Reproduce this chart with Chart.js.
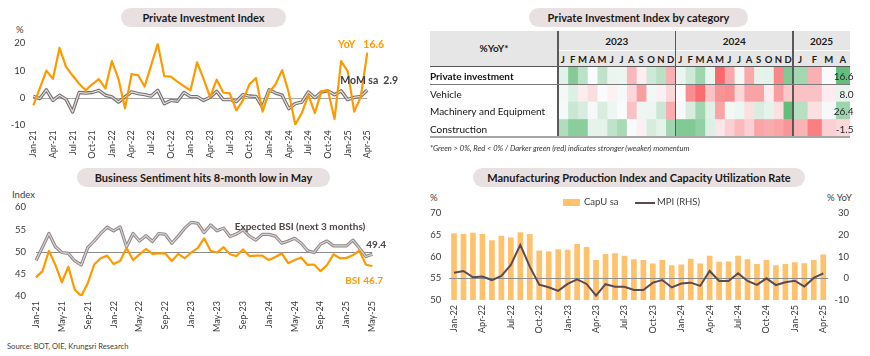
<!DOCTYPE html>
<html><head><meta charset="utf-8">
<script src="https://cdn.jsdelivr.net/npm/chart.js@4.4.1/dist/chart.umd.min.js"></script>
<style>
html,body{margin:0;padding:0;background:#fff;}
body{width:870px;height:356px;position:relative;overflow:hidden;font-family:Lato,'Open Sans',sans-serif;color:#262626;}
.pill{position:absolute;height:19px;border-radius:10px;background:#E9E1E1;font-weight:bold;font-size:11px;line-height:19px;text-align:center;color:#1a1a1a;white-space:nowrap;}
canvas{position:absolute;}
.t{position:absolute;font-size:9.5px;color:#404040;white-space:nowrap;}
.hd{position:absolute;text-align:center;font-weight:bold;color:#1a1a1a;white-space:nowrap;}
.ln{position:absolute;}
</style></head><body>
<div class="pill" style="left:121px;top:8px;width:165px;">Private Investment Index</div>
<div class="pill" style="left:529px;top:8px;width:219px;">Private Investment Index by category</div>
<div class="pill" style="left:77px;top:168px;width:253px;">Business Sentiment hits 8-month low in May</div>
<div class="pill" style="left:473px;top:168px;width:332px;">Manufacturing Production Index and Capacity Utilization Rate</div>

<div class="t" style="left:16px;top:24px;">%</div>
<div class="t" style="left:12px;top:189px;">Index</div>
<div class="t" style="left:430px;top:192px;">%</div>
<div class="t" style="left:827px;top:192px;">% YoY</div>

<canvas id="c1" width="420" height="136" style="left:0;top:24px;"></canvas>
<canvas id="c3" width="420" height="145" style="left:0;top:190px;"></canvas>
<canvas id="c4" width="445" height="145" style="left:425px;top:190px;"></canvas>

<div id="hdr" style="position:absolute;left:430px;top:31px;width:420px;height:35.7px;background:#E7E6E6;"></div>
<canvas id="c2" width="425" height="70" style="left:430px;top:66.7px;"></canvas>
<div id="lines"></div>
<div id="leg4"></div>

<div class="t" style="left:430px;top:143px;font-size:7.6px;font-style:italic;color:#333;">*Green &gt; 0%, Red &lt; 0% / Darker green (red) indicates stronger (weaker) momentum</div>
<div class="t" style="left:7px;top:341px;font-size:7.6px;color:#404040;">Source: BOT, OIE, Krungsri Research</div>

<script>
// ---------- DATA ----------
const pimMonths = ["Jan-21","Feb-21","Mar-21","Apr-21","May-21","Jun-21","Jul-21","Aug-21","Sep-21","Oct-21","Nov-21","Dec-21",
"Jan-22","Feb-22","Mar-22","Apr-22","May-22","Jun-22","Jul-22","Aug-22","Sep-22","Oct-22","Nov-22","Dec-22",
"Jan-23","Feb-23","Mar-23","Apr-23","May-23","Jun-23","Jul-23","Aug-23","Sep-23","Oct-23","Nov-23","Dec-23",
"Jan-24","Feb-24","Mar-24","Apr-24","May-24","Jun-24","Jul-24","Aug-24","Sep-24","Oct-24","Nov-24","Dec-24",
"Jan-25","Feb-25","Mar-25","Apr-25"];
const pimYoY = [-2.7,3.6,10.0,7.0,18.3,11.4,8.2,5.2,2.8,5.0,6.9,3.5,
13.5,7.0,-3.8,8.7,8.3,4.2,12.0,19.8,8.0,7.8,6.0,4.3,
2.8,13.0,7.0,0.3,6.7,2.0,1.7,-4.5,-1.0,5.0,7.3,-5.0,
2.0,5.0,10.2,2.0,-9.7,-5.5,1.0,-5.5,2.5,2.6,-7.7,13.5,
9.8,-5.0,0.4,16.6];
const pimMoM = [0.6,-0.2,3.0,-0.9,1.0,-0.5,-5.1,2.0,1.8,2.0,2.8,1.0,
0.4,-1.5,0.4,2.2,1.6,1.2,0.7,2.8,-2.1,-0.9,-1.2,2.0,
0.5,0.5,-0.9,0.3,2.4,-0.6,-0.5,-1.3,1.2,0.7,0.6,-3.3,
3.0,1.8,1.0,-3.9,-2.1,-1.5,2.2,0.1,2.2,2.6,1.2,2.6,
-0.6,0.2,0.6,2.9];
const pimSeriesNames = ["YoY","MoM sa"];

const bsiMonths = ["Jan-21","Feb-21","Mar-21","Apr-21","May-21","Jun-21","Jul-21","Aug-21","Sep-21","Oct-21","Nov-21","Dec-21",
"Jan-22","Feb-22","Mar-22","Apr-22","May-22","Jun-22","Jul-22","Aug-22","Sep-22","Oct-22","Nov-22","Dec-22",
"Jan-23","Feb-23","Mar-23","Apr-23","May-23","Jun-23","Jul-23","Aug-23","Sep-23","Oct-23","Nov-23","Dec-23",
"Jan-24","Feb-24","Mar-24","Apr-24","May-24","Jun-24","Jul-24","Aug-24","Sep-24","Oct-24","Nov-24","Dec-24",
"Jan-25","Feb-25","Mar-25","Apr-25","May-25"];
const bsiCurrent = [44.2,45.6,50.2,47.0,43.1,46.6,41.4,40.0,42.9,47.1,48.5,49.1,
47.2,47.9,50.8,48.1,49.4,50.6,49.5,49.6,49.6,47.9,49.5,48.5,
49.8,50.8,53.0,50.2,49.8,51.0,49.4,49.0,50.5,49.0,49.1,49.1,
48.1,48.8,49.6,47.4,48.1,48.7,47.0,47.1,45.6,47.0,49.4,48.5,
48.6,49.2,50.2,47.1,46.7];
const bsiExpected = [48.0,51.0,54.1,51.1,49.8,49.6,47.9,47.0,50.9,52.4,54.1,55.5,
54.7,55.6,51.1,54.1,52.4,53.6,52.3,54.1,53.9,51.9,53.5,55.3,
56.6,56.4,54.3,56.0,54.7,55.3,53.4,54.0,54.9,53.5,52.6,53.9,
53.9,53.5,51.9,52.4,53.0,51.9,50.2,49.8,51.7,52.4,51.3,51.3,
51.3,52.6,50.8,48.9,49.4];
const bsiSeriesNames = ["BSI","Expected BSI (next 3 months)"];

const mfgMonths = ["Jan-22","Feb-22","Mar-22","Apr-22","May-22","Jun-22","Jul-22","Aug-22","Sep-22","Oct-22","Nov-22","Dec-22",
"Jan-23","Feb-23","Mar-23","Apr-23","May-23","Jun-23","Jul-23","Aug-23","Sep-23","Oct-23","Nov-23","Dec-23",
"Jan-24","Feb-24","Mar-24","Apr-24","May-24","Jun-24","Jul-24","Aug-24","Sep-24","Oct-24","Nov-24","Dec-24",
"Jan-25","Feb-25","Mar-25","Apr-25"];
const capU = [65.4,65.2,65.5,65.2,63.8,64.8,64.4,65.6,65.2,61.4,61.2,61.7,
61.6,62.9,62.2,59.2,60.6,60.8,60.2,59.4,59.2,58.4,59.2,58.0,
58.2,59.5,58.4,60.2,58.8,58.9,60.2,59.4,58.3,59.2,58.0,58.3,
58.7,58.5,59.2,60.5];
const mpiYoY = [2.6,3.4,0.5,0.8,-0.8,1.1,6.2,15.4,5.4,-2.9,-4.1,-5.8,
-2.6,-0.5,-2.6,-8.0,-2.7,-3.9,-3.9,-5.4,-5.4,-2.0,-0.8,-4.2,
-2.4,-2.0,-3.5,3.4,-1.2,-1.2,2.3,-1.2,-3.0,0.0,-3.1,-1.8,
-1.1,-3.8,0.2,2.3];
const mfgSeriesNames = ["CapU sa","MPI (RHS)"];

const heatRows = ["Private investment","Vehicle","Machinery and Equipment","Construction"];
const heatYears = ["2023","2024","2025"];
const heatYearOfCol = ["2023","2023","2023","2023","2023","2023","2023","2023","2023","2023","2023","2023",
"2024","2024","2024","2024","2024","2024","2024","2024","2024","2024","2024","2024",
"2025","2025","2025","2025"];
const heatMonthLetters = ["J","F","M","A","M","J","J","A","S","O","N","D",
"J","F","M","A","M","J","J","A","S","O","N","D","J","F","M","A"];
const heatPrivate = [2.8,13.0,7.0,0.3,6.7,2.0,1.7,-4.5,-1.0,5.0,7.3,-5.0,
2.0,5.0,10.2,2.0,-9.7,-5.5,1.0,-5.5,2.5,2.6,-7.7,13.5, 9.8,-5.0,0.4,16.6];
const heatVehicle = [3,12,-3,-6,0.5,-2,2.5,-7,-18,4,-2.5,-7,
0.5,-21,-27,-11,-20,-21,-7,-17,-17,-3,-18,-10, -11,-11,-3,8.0];
const heatMachinery = [2,14,10,2,10,4,1,-8,4,4,14,-11,
2,10,25,8,-12,3,4,-4,10,6,-4,42, 19,-4,2,26.4];
const heatConstruction = [4,6,6,1.2,1.2,3.2,4.4,0.2,-0.5,2,1.2,4.8,
6.4,6.4,5.6,1.6,-0.9,-1.8,-2.7,-1.8,-3.6,-3.3,-3.6,-4.2, -3,-5.1,-1.8,-1.5];

// ---------- STYLE ----------
const ORANGE = '#FF9900';
const FONT = "Lato, 'Open Sans', sans-serif";
Chart.defaults.font.family = FONT;
Chart.defaults.color = '#404040';
Chart.defaults.animation = false;
Chart.defaults.responsive = false;
Chart.defaults.events = [];
Chart.defaults.plugins.legend.display = false;
Chart.defaults.plugins.tooltip.enabled = false;

function hLine(chart, scaleId, value, color){
  const s = chart.scales[scaleId], a = chart.chartArea, ctx = chart.ctx;
  const y = Math.round(s.getPixelForValue(value)) + 0.5;
  ctx.save(); ctx.strokeStyle = color; ctx.lineWidth = 1;
  ctx.beginPath(); ctx.moveTo(a.left, y); ctx.lineTo(a.right, y); ctx.stroke(); ctx.restore();
}
function xAxis(step, h){
  return { grid:{display:false, drawTicks:false}, border:{display:false},
    ticks:{autoSkip:false, maxRotation:90, minRotation:90, padding:5, font:{size:9}, color:'#3a3a3a',
      callback(v,i){ return i % step === 0 ? this.getLabelForValue(v) : ''; }},
    afterFit(s){ s.height = h; } };
}
function yAxis(min,max,step,w,pad){
  return { min, max, grid:{display:false, drawTicks:false}, border:{display:false},
    ticks:{stepSize:step, padding:pad, font:{size:9.5}, color:'#3a3a3a'},
    afterFit(s){ s.width = w; } };
}
const lineDs = (label, data, color, width) => ({label, data, borderColor:color, borderWidth:width,
  pointRadius:0, fill:false, tension:0, borderJoinStyle:'round'});

// ---------- CHART 1 ----------
new Chart(document.getElementById('c1'), {
  type:'line',
  data:{ labels:pimMonths, datasets:[
    lineDs(pimSeriesNames[0], pimYoY, ORANGE, 2.2),
    lineDs(pimSeriesNames[1], pimMoM, '#e4e0e0', 1.2),
    lineDs(pimSeriesNames[1], pimMoM, '#767070', 3.4)
  ]},
  options:{
    layout:{padding:{top:19.3, right:52.7, bottom:0, left:0}},
    scales:{ x:xAxis(3, 34.7), y:yAxis(-10,20,5,33.3,8) }
  },
  plugins:[{ id:'p1',
    beforeDatasetsDraw(c){ hLine(c,'y',0,'#a6a6a6'); },
    afterDatasetsDraw(c){
      const ctx = c.ctx;
      const p = c.getDatasetMeta(0).data[pimYoY.length-1];
      const q = c.getDatasetMeta(2).data[pimMoM.length-1];
      ctx.save(); ctx.textBaseline='middle';
      ctx.font = 'bold 10.5px ' + FONT; ctx.fillStyle = ORANGE;
      ctx.textAlign='right'; ctx.fillText(pimSeriesNames[0], p.x-12, p.y-8);
      ctx.textAlign='left'; ctx.fillText(pimYoY[pimYoY.length-1].toFixed(1), p.x-4, p.y-8);
      ctx.fillStyle = '#404040';
      ctx.textAlign='right'; ctx.fillText(pimSeriesNames[1], q.x+11, q.y-9);
      ctx.textAlign='left'; ctx.fillText(pimMoM[pimMoM.length-1].toFixed(1), q.x+16, q.y-9);
      ctx.restore();
    }}]
});

// ---------- CHART 3 ----------
new Chart(document.getElementById('c3'), {
  type:'line',
  data:{ labels:bsiMonths, datasets:[
    lineDs(bsiSeriesNames[0], bsiCurrent, ORANGE, 2.2),
    lineDs(bsiSeriesNames[1], bsiExpected, '#d9d3d3', 1.2),
    lineDs(bsiSeriesNames[1], bsiExpected, '#8f8686', 3.2)
  ]},
  options:{
    layout:{padding:{top:17.3, right:47.7, bottom:0, left:0}},
    scales:{ x:xAxis(4, 39), y:yAxis(40,60,5,36,10) }
  },
  plugins:[{ id:'p3',
    beforeDatasetsDraw(c){ hLine(c,'y',50,'#8c8c8c'); },
    afterDatasetsDraw(c){
      const ctx = c.ctx;
      const p = c.getDatasetMeta(0).data[bsiCurrent.length-1];
      const q = c.getDatasetMeta(2).data[bsiExpected.length-1];
      ctx.save(); ctx.textBaseline='middle';
      ctx.font = 'bold 10px ' + FONT; ctx.fillStyle = '#4d4343';
      ctx.textAlign='right'; ctx.fillText(bsiSeriesNames[1], q.x-7, q.y-28);
      ctx.textAlign='left'; ctx.fillText(bsiExpected[bsiExpected.length-1].toFixed(1), q.x-6, q.y-9.5);
      ctx.fillStyle = ORANGE;
      ctx.textAlign='right'; ctx.fillText(bsiSeriesNames[0], p.x-12, p.y+14);
      ctx.textAlign='left'; ctx.fillText(bsiCurrent[bsiCurrent.length-1].toFixed(1), p.x-9, p.y+14);
      ctx.restore();
    }}]
});

// ---------- CHART 4 ----------
const MPI_COLOR = '#5a4a52', BAR_COLOR = '#FFC16B';
new Chart(document.getElementById('c4'), {
  type:'bar',
  data:{ labels:mfgMonths, datasets:[
    {type:'line', label:mfgSeriesNames[1], data:mpiYoY, yAxisID:'y2', borderColor:MPI_COLOR, borderWidth:2, pointRadius:0, tension:0},
    {type:'bar', label:mfgSeriesNames[0], data:capU, yAxisID:'y', backgroundColor:BAR_COLOR, barPercentage:0.6, categoryPercentage:1}
  ]},
  options:{
    layout:{padding:{top:23.3, right:21, bottom:0, left:0}},
    scales:{
      x:xAxis(3, 35),
      y:Object.assign(yAxis(50,70,5,24.3,8), {position:'left'}),
      y2:{position:'right', min:-10, max:30, grid:{display:false, drawTicks:false}, border:{display:false},
        ticks:{stepSize:10, crossAlign:'far', font:{size:9.5}, color:'#3a3a3a'}, afterFit(s){ s.width = 21; }}
    }
  },
  plugins:[{ id:'p4',
    afterDatasetDraw(c, args){ if (args.index === 1) hLine(c,'y',55,'#8c8c8c'); }
  }]
});

// legend chart 4
(function(){
  const L = document.getElementById('leg4');
  L.innerHTML =
    '<div class="ln" style="left:563px;top:199px;width:17px;height:7px;background:'+BAR_COLOR+'"></div>'+
    '<div class="t" style="left:584px;top:196px;">'+mfgSeriesNames[0]+'</div>'+
    '<div class="ln" style="left:635px;top:201.5px;width:20px;height:2px;background:'+MPI_COLOR+'"></div>'+
    '<div class="t" style="left:657px;top:196px;">'+mfgSeriesNames[1]+'</div>';
})();

// ---------- HEATMAP ----------
const heatData = [heatPrivate, heatVehicle, heatMachinery, heatConstruction];
const heatScale = [{pos:16.6,neg:9.7},{pos:60,neg:28},{pos:42,neg:20},{pos:8,neg:6}];
const colW = y => (y === '2025' ? 1.455 : 1);
function heatColor(v, r){
  const W=[252,252,255], G=[99,190,123], R=[248,105,107];
  let t, T;
  if (v >= 0){ t = Math.min(1, v/heatScale[r].pos); T = G; } else { t = Math.min(1, -v/heatScale[r].neg); T = R; }
  const c = W.map((w,i)=>Math.round(w + (T[i]-w)*t));
  return 'rgb('+c.join(',')+')';
}
const heatWeights = heatYearOfCol.map(colW);
const totalW = heatWeights.reduce((a,b)=>a+b,0);
const heatDatasets = heatMonthLetters.map((m,j)=>({
  label:m, data:heatRows.map(()=>heatWeights[j]),
  backgroundColor:heatRows.map((_,r)=>heatColor(heatData[r][j], r)),
  borderWidth:0, barPercentage:1, categoryPercentage:1
}));
const heat = new Chart(document.getElementById('c2'), {
  type:'bar',
  data:{ labels:heatRows, datasets:heatDatasets },
  options:{
    indexAxis:'y',
    layout:{padding:{top:0,right:5,bottom:0,left:0}},
    scales:{
      x:{stacked:true, display:false, min:0, max:totalW},
      y:{stacked:true, grid:{display:false, drawTicks:false}, border:{display:false},
        ticks:{crossAlign:'far', color:'#111', labelOffset:1.5,
          font:(ctx)=>({family:FONT, size:10, weight: ctx.index===0 ? 'bold' : 'normal'})},
        afterFit(s){ s.width = 128; s.paddingTop = 0; s.paddingBottom = 0; }}
    }
  },
  plugins:[{ id:'hv',
    afterDatasetsDraw(c){
      const ctx=c.ctx, last=heatMonthLetters.length-1, meta=c.getDatasetMeta(last);
      ctx.save(); ctx.font='10px '+FONT; ctx.fillStyle='#262626'; ctx.textAlign='right'; ctx.textBaseline='middle';
      heatData.forEach((row,r)=>{ const el=meta.data[r]; ctx.fillText(row[last].toFixed(1), el.x+3.5, el.y+1.5); });
      ctx.restore();
    }}]
});

// header + lines built from the heatmap x scale
(function(){
  const xs = heat.scales.x; const edges=[]; let cum=0;
  edges.push(xs.getPixelForValue(0));
  heatWeights.forEach(w=>{ cum+=w; edges.push(xs.getPixelForValue(cum)); });
  const H = document.getElementById('hdr');
  let html = '<div class="hd" style="left:0;top:0;width:128px;height:35.7px;line-height:35.7px;font-size:10px;">%YoY*</div>';
  html += '<div class="ln" style="left:128px;top:18.5px;width:292px;height:1px;background:#fff"></div>';
  heatYears.forEach(y=>{
    const first = heatYearOfCol.indexOf(y), lastI = heatYearOfCol.lastIndexOf(y);
    const l = edges[first], r = edges[lastI+1];
    html += '<div class="hd" style="left:'+l+'px;top:0;width:'+(r-l)+'px;height:18.5px;line-height:20px;font-size:10px;">'+y+'</div>';
  });
  heatMonthLetters.forEach((m,j)=>{
    const l = edges[j], r = edges[j+1];
    html += '<div class="hd" style="left:'+l+'px;top:19.5px;width:'+(r-l)+'px;height:16px;line-height:18px;font-size:9.5px;">'+m+'</div>';
  });
  H.innerHTML = html;
  const Lz = document.getElementById('lines');
  let lh = '';
  heatYears.forEach(y=>{
    const x = 430 + edges[heatYearOfCol.indexOf(y)];
    lh += '<div class="ln" style="left:'+(x-0.75)+'px;top:31px;width:1.5px;height:106px;background:#595959"></div>';
  });
  lh += '<div class="ln" style="left:430px;top:66px;width:420px;height:1.3px;background:#595959"></div>';
  lh += '<div class="ln" style="left:430px;top:83.7px;width:420px;height:1px;background:#7a7a7a"></div>';
  lh += '<div class="ln" style="left:430px;top:136.3px;width:420px;height:2px;background:#a6a6a6"></div>';
  Lz.innerHTML = lh;
})();
</script>
</body></html>
